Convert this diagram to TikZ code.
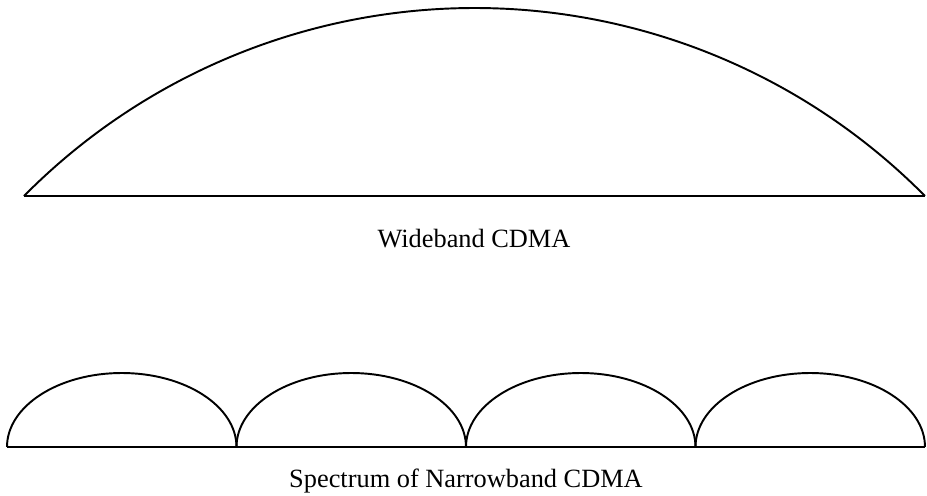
\documentclass[tikz,border=0pt]{standalone}
\usepackage{fontspec}
\setmainfont{Liberation Serif}
\usepackage{tikz}
\usetikzlibrary{positioning,calc}

\begin{document}
\begin{tikzpicture}[x=0.02cm,y=0.02cm,
    curve/.style={line width=1.1pt,line join=round},
    caption/.style={anchor=base,inner sep=0pt,font=\fontsize{15}{18}\selectfont}]
  \useasboundingbox (0,0) rectangle (927,495);
  % wideband spectrum
  \coordinate (wbL) at (24,299);
  \coordinate (wbR) at (925,299);
  \draw[curve] (wbL) -- (wbR);
  \draw[curve] (wbL) arc[start angle=135.3,end angle=44.7,radius=633.8];
  \node[caption] (wblabel) at (474,248) {Wideband CDMA};
  % narrowband spectrum
  \coordinate (nbL) at (7,48);
  \coordinate (nbR) at (925,48);
  \draw[curve] (nbL) -- (nbR);
  \foreach \s in {7,236.5,466,695.5}
    \draw[curve] (\s,48) arc[start angle=180,end angle=0,x radius=114.75,y radius=74];
  \node[caption] (nblabel) at (466,8) {Spectrum of Narrowband CDMA};
\end{tikzpicture}
\end{document}
